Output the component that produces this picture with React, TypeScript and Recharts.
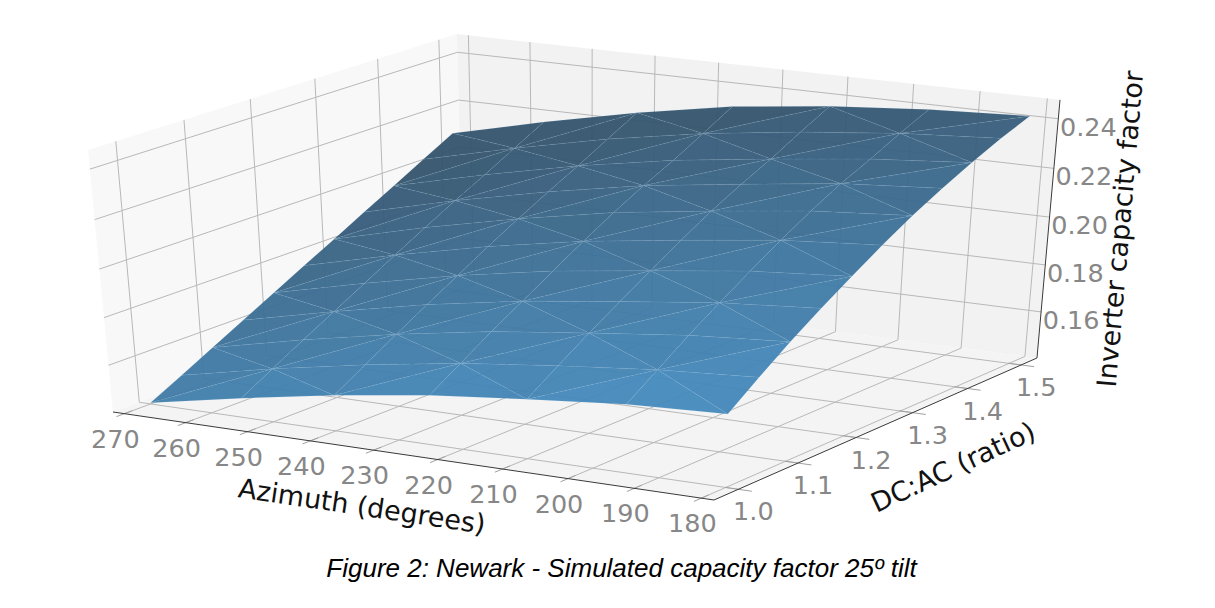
import { Scatter, ScatterChart, XAxis, YAxis } from "recharts";

const WIDTH = 1215;
const HEIGHT = 608;

// grid of the simulation runs
const azimuths = [270, 255, 240, 225, 210, 195, 180];
const ratios = [1.0, 1.05, 1.1, 1.15, 1.2, 1.25, 1.3, 1.35, 1.4, 1.45, 1.5];
// capacity factor, one row per ratio, one column per azimuth
const capacity = [
  [0.1405, 0.1482, 0.1551, 0.1608, 0.1649, 0.1685, 0.1703],
  [0.1473, 0.1556, 0.1629, 0.169, 0.1736, 0.1775, 0.18],
  [0.1542, 0.1629, 0.1707, 0.1772, 0.182, 0.1865, 0.1893],
  [0.161, 0.17, 0.1782, 0.1849, 0.19, 0.1948, 0.1978],
  [0.1679, 0.1772, 0.1856, 0.1926, 0.1978, 0.2028, 0.2058],
  [0.1748, 0.1844, 0.193, 0.2002, 0.2056, 0.2106, 0.2136],
  [0.1816, 0.1914, 0.2, 0.2074, 0.2129, 0.2178, 0.2208],
  [0.1885, 0.1982, 0.2067, 0.214, 0.2193, 0.2243, 0.2272],
  [0.1953, 0.2047, 0.2131, 0.22, 0.2252, 0.2298, 0.233],
  [0.2022, 0.2115, 0.2199, 0.2267, 0.2318, 0.2358, 0.2384],
  [0.209, 0.2182, 0.2266, 0.2335, 0.2381, 0.2412, 0.243],
];

const azTicks = [270, 260, 250, 240, 230, 220, 210, 200, 190, 180];
const ratioTicks = [1.0, 1.1, 1.2, 1.3, 1.4, 1.5];
const capTicks = [0.16, 0.18, 0.2, 0.22, 0.24];

// cube limits
const AZ0 = 271.875;
const AZ1 = 178.125;
const DC0 = 0.96;
const DC1 = 1.53;
const Z0 = 0.14;
const Z1 = 0.2475;

// camera, as screen corners of the cube plus the depth ratio along each edge
const O = [113, 412];
const X = [714, 500];
const Y = [463, 283];
const Z = [88, 150];
const WX = 0.9486;
const WY = 1.076;
const WZ = 0.95;

const project = (az: number, dc: number, cf: number) => {
  const u = (az - AZ0) / (AZ1 - AZ0);
  const v = (dc - DC0) / (DC1 - DC0);
  const w = (cf - Z0) / (Z1 - Z0);
  const h = 1 + u * (WX - 1) + v * (WY - 1) + w * (WZ - 1);
  return {
    x: (O[0] + u * (WX * X[0] - O[0]) + v * (WY * Y[0] - O[0]) + w * (WZ * Z[0] - O[0])) / h,
    y: (O[1] + u * (WX * X[1] - O[1]) + v * (WY * Y[1] - O[1]) + w * (WZ * Z[1] - O[1])) / h,
  };
};

const noDot = () => <g />;

const polygon = (fill: string, stroke: string, fillOpacity = 1, dash?: string) => (p: any) => (
  <polygon
    points={p.points.map((q: any) => `${q.x},${q.y}`).join(" ")}
    fill={fill}
    fillOpacity={fillOpacity}
    stroke={stroke}
    strokeWidth={0.6}
    strokeDasharray={dash}
  />
);

const path = (stroke: string, strokeWidth = 1) => (p: any) => (
  <polyline
    points={p.points.map((q: any) => `${q.x},${q.y}`).join(" ")}
    fill="none"
    stroke={stroke}
    strokeWidth={strokeWidth}
  />
);

const label = (text: string, fill: string, size: number, angle = 0) => (p: any) => (
  <text
    x={p.cx}
    y={p.cy}
    fill={fill}
    fontSize={size}
    fontFamily="DejaVu Sans"
    textAnchor="middle"
    dominantBaseline="central"
    transform={angle ? `rotate(${angle} ${p.cx} ${p.cy})` : undefined}
  >
    {text}
  </text>
);

const mix = (a: number[], b: number[], t: number) =>
  `rgb(${a.map((c, i) => Math.round(c + (b[i] - c) * t)).join(",")})`;

const LIGHT = [68, 140, 192];
const DARK = [52, 84, 110];

type Facet = { pts: { x: number; y: number }[]; fill: string };

const facets: Facet[] = [];
for (let r = 0; r < ratios.length - 1; r++) {
  for (let c = 0; c < azimuths.length - 1; c++) {
    const corner = (rr: number, cc: number) => ({
      p: project(azimuths[cc], ratios[rr], capacity[rr][cc]),
      rr,
      cc,
    });
    const a = corner(r, c);
    const b = corner(r, c + 1);
    const d = corner(r + 1, c + 1);
    const e = corner(r + 1, c);
    const tris = (r + c) % 2 === 0 ? [[a, b, d], [a, d, e]] : [[a, b, e], [b, d, e]];
    tris.forEach((t, i) => {
      const mr = (t[0].rr + t[1].rr + t[2].rr) / 3 / (ratios.length - 1);
      const mc = (t[0].cc + t[1].cc + t[2].cc) / 3 / (azimuths.length - 1);
      const shade = Math.min(1, Math.max(0, 0.9 * mr + 0.26 * (1 - mc) + (i ? 0.012 : -0.012)));
      facets.push({ pts: t.map((q) => q.p), fill: mix(LIGHT, DARK, shade) });
    });
  }
}

const GRID = "#b8b8b8";
const PANE_L = "#f8f8f8";
const PANE_B = "#f2f2f2";
const PANE_F = "#f4f4f4";
const AXIS = "#3a3a3a";
const TICK = "#878787";

const corners = [
  { fill: PANE_L, pts: [project(AZ0, DC0, Z0), project(AZ0, DC1, Z0), project(AZ0, DC1, Z1), project(AZ0, DC0, Z1)] },
  { fill: PANE_B, pts: [project(AZ0, DC1, Z0), project(AZ1, DC1, Z0), project(AZ1, DC1, Z1), project(AZ0, DC1, Z1)] },
  { fill: PANE_F, pts: [project(AZ0, DC0, Z0), project(AZ1, DC0, Z0), project(AZ1, DC1, Z0), project(AZ0, DC1, Z0)] },
];

const gridLines = [
  ...azTicks.map((t) => [project(t, DC0, Z0), project(t, DC1, Z0), project(t, DC1, Z1)]),
  ...ratioTicks.map((t) => [project(AZ1, t, Z0), project(AZ0, t, Z0), project(AZ0, t, Z1)]),
  ...capTicks.map((t) => [project(AZ0, DC0, t), project(AZ0, DC1, t), project(AZ1, DC1, t)]),
];

const tickMarks = [
  ...azTicks.map((t) => [project(t, DC0 + 0.012, Z0), project(t, DC0 - 0.012, Z0)]),
  ...ratioTicks.map((t) => [project(AZ1 + 2, t, Z0), project(AZ1 - 2, t, Z0)]),
];

const axisLines = [
  [project(AZ0, DC0, Z0), project(AZ1, DC0, Z0), project(AZ1, DC1, Z0), project(AZ1, DC1, Z1)],
];

const shift = (p: { x: number; y: number }, dx: number, dy: number) => ({ x: p.x + dx, y: p.y + dy });

const tickLabels = [
  ...azTicks.map((t) => ({ text: String(t), at: shift(project(t, DC0, Z0), -9, 25) })),
  ...ratioTicks.map((t) => ({ text: t.toFixed(1), at: shift(project(AZ1, t, Z0), 15, 22) })),
  ...capTicks.map((t) => ({ text: t.toFixed(2), at: shift(project(AZ1, DC1, t), 30, 8) })),
];

const axisLabels = [
  { text: "Azimuth (degrees)", at: { x: 362, y: 506 }, angle: 8.5 },
  { text: "DC:AC (ratio)", at: { x: 953, y: 467 }, angle: -25 },
  { text: "Inverter capacity factor", at: { x: 1120, y: 229 }, angle: -85 },
];

export default function App() {
  return (
    <div style={{ position: "absolute", left: 0, top: 0, width: WIDTH, height: HEIGHT, background: "#fff" }}>
      <ScatterChart width={WIDTH} height={HEIGHT} margin={{ top: 0, right: 0, bottom: 0, left: 0 }}>
        <XAxis type="number" dataKey="x" domain={[0, WIDTH]} hide />
        <YAxis type="number" dataKey="y" domain={[0, HEIGHT]} reversed hide />
        {corners.map((c, i) => (
          <Scatter key={`pane${i}`} data={c.pts} shape={noDot} line={polygon(c.fill, "none")} isAnimationActive={false} />
        ))}
        {gridLines.map((pts, i) => (
          <Scatter key={`grid${i}`} data={pts} shape={noDot} line={path(GRID)} isAnimationActive={false} />
        ))}
        {facets.map((f, i) => (
          <Scatter
            key={`facet${i}`}
            data={f.pts}
            shape={noDot}
            line={polygon(f.fill, "rgba(150,200,235,0.2)", 0.95, "9 3")}
            isAnimationActive={false}
          />
        ))}
        {tickMarks.map((pts, i) => (
          <Scatter key={`tick${i}`} data={pts} shape={noDot} line={path("#a0a0a0")} isAnimationActive={false} />
        ))}
        {axisLines.map((pts, i) => (
          <Scatter key={`axis${i}`} data={pts} shape={noDot} line={path(AXIS)} isAnimationActive={false} />
        ))}
        {tickLabels.map((t, i) => (
          <Scatter key={`tl${i}`} data={[t.at]} shape={label(t.text, TICK, 25.5)} isAnimationActive={false} />
        ))}
        {axisLabels.map((t, i) => (
          <Scatter key={`al${i}`} data={[t.at]} shape={label(t.text, "#111", 27, t.angle)} isAnimationActive={false} />
        ))}
      </ScatterChart>
      <div
        style={{
          position: "absolute",
          left: 0,
          width: 1243,
          top: 553,
          textAlign: "center",
          fontFamily: "Liberation Sans",
          fontStyle: "italic",
          fontSize: 26,
          color: "#000",
        }}
      >
        Figure 2: Newark - Simulated capacity factor 25º tilt
      </div>
    </div>
  );
}
